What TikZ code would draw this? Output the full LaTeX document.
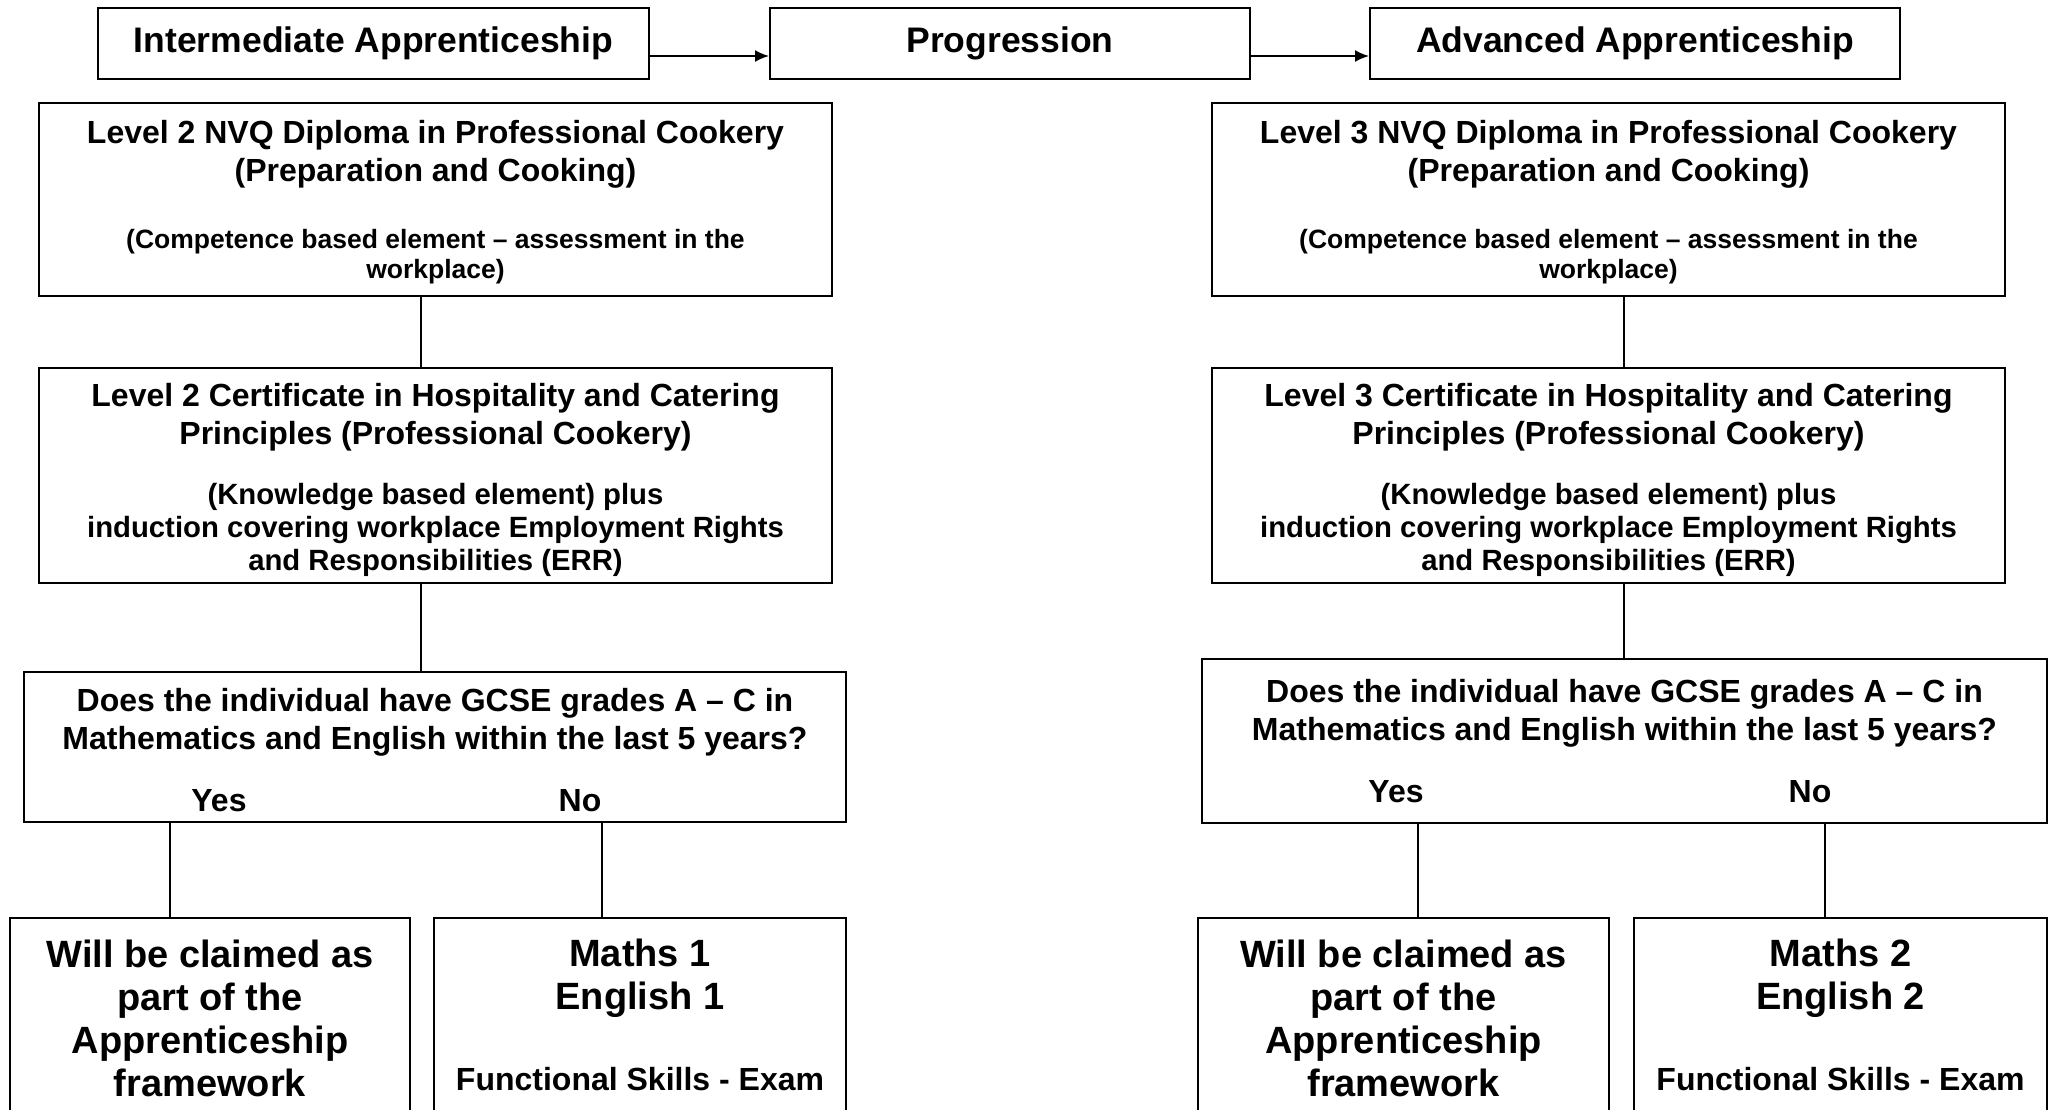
\documentclass[tikz,border=0pt]{standalone}
\usepackage{fontspec}
\setmainfont{Liberation Sans}
\usetikzlibrary{arrows.meta}
\newcommand{\fixsp}{\spaceskip=\fontdimen2\font\xspaceskip=\fontdimen2\font\relax}
\newcommand{\titlesz}{\fontsize{35.5}{41}\selectfont\fixsp}
\newcommand{\mainsz}{\fontsize{32}{38}\selectfont\fixsp}
\newcommand{\notesz}{\fontsize{26.5}{30}\selectfont\fixsp}
\newcommand{\plussz}{\fontsize{29.3}{33}\selectfont\fixsp}
\newcommand{\claimsz}{\fontsize{38}{43}\selectfont\fixsp}
\begin{document}
\begin{tikzpicture}[x=1pt,y=-1pt,
    box/.style={draw,line width=2pt,inner sep=0pt,align=center,font=\bfseries},
    link/.style={line width=1.5pt},
    arr/.style={line width=1.8pt,-{Latex[length=14pt,width=12pt]}}]
    \useasboundingbox (0,0) rectangle (2055,1109);
    \clip (0,0) rectangle (2055,1109);
    \node[box,minimum width=551,minimum height=71] (interm) at (373.5,43.5) {\titlesz Intermediate Apprenticeship};
    \node[box,minimum width=480,minimum height=71] (prog) at (1010,43.5) {\titlesz Progression};
    \node[box,minimum width=530,minimum height=71] (adv) at (1635,43.5) {\titlesz Advanced Apprenticeship};
    \draw[arr] ([yshift=-12.5pt]interm.east) -- ([yshift=-12.5pt]prog.west);
    \draw[arr] ([yshift=-12.5pt]prog.east) -- ([yshift=-12.5pt]adv.west);
    % intermediate side
    \node[box,text width=793,minimum height=193] (nvqA) at (435.5,199.5) {{\mainsz\rule{0pt}{29pt}Level 2 NVQ Diploma in Professional Cookery\\(Preparation and Cooking)\par}\vspace{37pt}{\notesz (Competence based element -- assessment in the\\workplace)\par}};
    \node[box,text width=793,minimum height=215] (certA) at (435.5,475.5) {{\mainsz\rule{0pt}{33pt}Level 2 Certificate in Hospitality and Catering\\Principles (Professional Cookery)\par}\vspace{27pt}{\plussz (Knowledge based element) plus\\induction covering workplace Employment Rights\\and Responsibilities (ERR)\par}};
    \node[box,text width=822,minimum height=150] (gcseA) at (435,747) {{\mainsz\rule{0pt}{29pt}Does the individual have GCSE grades A -- C in\\Mathematics and English within the last 5 years?\par}\vspace{24pt}{\mainsz\makebox[0pt][l]{\hspace{-216pt}\makebox[0pt]{Yes}}\makebox[0pt][l]{\hspace{145pt}\makebox[0pt]{No}}\par}};
    \node[box,text width=400,minimum height=200] (claimA) at (210,1018) {\claimsz Will be claimed as\\part of the\\Apprenticeship\\framework\par};
    \node[box,text width=412,minimum height=200] (mathsA) at (640,1018) {{\claimsz Maths 1\\English 1\par}\vspace{43pt}{\mainsz Functional Skills - Exam\rule[-6pt]{0pt}{0pt}\par}};
    \draw[link] ([xshift=-14.5pt]nvqA.south) -- ([xshift=-14.5pt]certA.north);
    \draw[link] ([xshift=-14.5pt]certA.south) -- ([xshift=-14.5pt]certA.south |- gcseA.north);
    \draw[link] ([xshift=-40pt]claimA.north) -- ([xshift=-40pt]claimA.north |- gcseA.south);
    \draw[link] ([xshift=-38pt]mathsA.north) -- ([xshift=-38pt]mathsA.north |- gcseA.south);
    % advanced side
    \node[box,text width=793,minimum height=193] (nvqB) at (1608.5,199.5) {{\mainsz\rule{0pt}{29pt}Level 3 NVQ Diploma in Professional Cookery\\(Preparation and Cooking)\par}\vspace{37pt}{\notesz (Competence based element -- assessment in the\\workplace)\par}};
    \node[box,text width=793,minimum height=215] (certB) at (1608.5,475.5) {{\mainsz\rule{0pt}{33pt}Level 3 Certificate in Hospitality and Catering\\Principles (Professional Cookery)\par}\vspace{27pt}{\plussz (Knowledge based element) plus\\induction covering workplace Employment Rights\\and Responsibilities (ERR)\par}};
    \node[box,text width=845,minimum height=164] (gcseB) at (1624.5,741) {{\mainsz Does the individual have GCSE grades A -- C in\\Mathematics and English within the last 5 years?\par}\vspace{24pt}{\mainsz\makebox[0pt][l]{\hspace{-228.5pt}\makebox[0pt]{Yes}}\makebox[0pt][l]{\hspace{185.5pt}\makebox[0pt]{No}}\par}};
    \node[box,text width=411,minimum height=200] (claimB) at (1403.5,1018) {\claimsz Will be claimed as\\part of the\\Apprenticeship\\framework\par};
    \node[box,text width=413,minimum height=200] (mathsB) at (1840.5,1018) {{\claimsz Maths 2\\English 2\par}\vspace{43pt}{\mainsz Functional Skills - Exam\rule[-6pt]{0pt}{0pt}\par}};
    \draw[link] ([xshift=15.5pt]nvqB.south) -- ([xshift=15.5pt]certB.north);
    \draw[link] ([xshift=15.5pt]certB.south) -- ([xshift=15.5pt]certB.south |- gcseB.north);
    \draw[link] ([xshift=14.5pt]claimB.north) -- ([xshift=14.5pt]claimB.north |- gcseB.south);
    \draw[link] ([xshift=-15.5pt]mathsB.north) -- ([xshift=-15.5pt]mathsB.north |- gcseB.south);
\end{tikzpicture}
\end{document}
